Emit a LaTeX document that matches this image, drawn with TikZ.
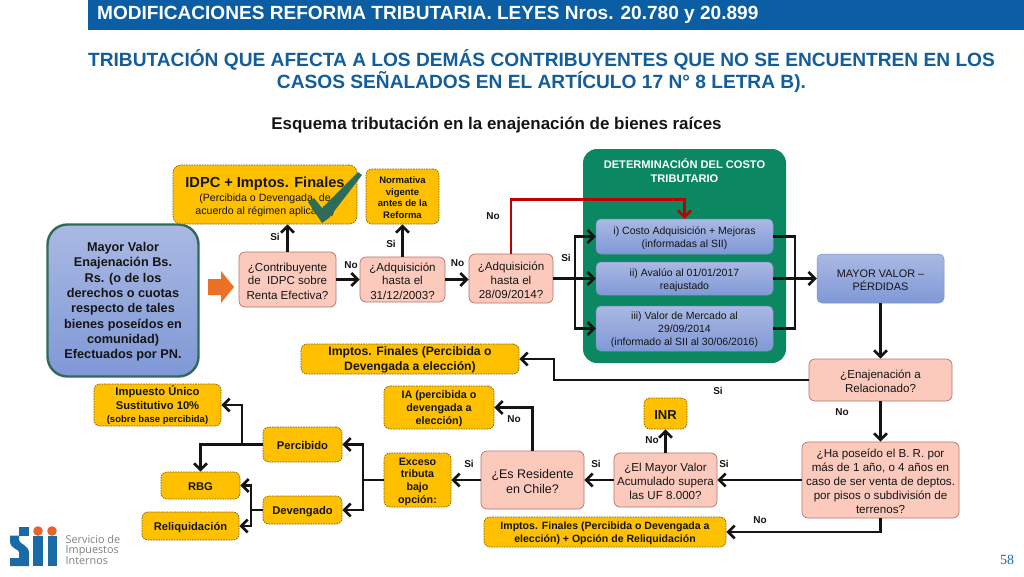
\documentclass[tikz,border=0pt]{standalone}
\usepackage{fontspec}
\setmainfont{Liberation Sans}
\newfontfamily\serifnum{Liberation Serif}
\newfontfamily\logofont{Open Sans}
\usetikzlibrary{arrows.meta,calc}
\definecolor{hdrblue}{HTML}{0B5EA3}
\definecolor{ttlblue}{HTML}{135D9C}
\definecolor{yel}{HTML}{FFC000}
\definecolor{yelline}{HTML}{7A6010}
\definecolor{pinkf}{HTML}{FCCABD}
\definecolor{pinkl}{HTML}{B9706C}
\definecolor{bluet}{HTML}{AAB9E3}
\definecolor{blueb}{HTML}{7F98D6}
\definecolor{bluel}{HTML}{7E93C8}
\definecolor{grn}{HTML}{0B8761}
\definecolor{dgrn}{HTML}{2E6B58}
\definecolor{redl}{HTML}{C00000}
\definecolor{sblue}{HTML}{1B6AA8}
\definecolor{sorange}{HTML}{E8622A}
\definecolor{sgray}{HTML}{7F7F7F}
\definecolor{ink}{HTML}{151515}
\newcommand\fs[2]{\fontsize{#1}{#2}\selectfont}
\newcommand\topstrut{\rule{0pt}{\dimexpr.75em+2.4pt\relax}}
\tikzset{
  base/.style={inner sep=0pt,align=center,text=ink},
  yelbox/.style={base,draw=yelline,fill=yel,dash pattern=on 1.6pt off 1pt,line width=0.7pt,rounded corners=6pt,font=\bfseries\fs{11.2}{13}},
  pinkbox/.style={base,draw=pinkl,fill=pinkf,line width=0.7pt,rounded corners=6pt,font=\fs{11.6}{14}},
  bluebox/.style={base,draw=bluel,top color=bluet,bottom color=blueb,line width=0.5pt,rounded corners=5pt,font=\fs{10.5}{13}},
  flow/.style={line width=2.6pt,draw=black!92,-{Straight Barb[length=6.5pt,width=13pt,line width=2.6pt]}},
  plain/.style={line width=2.6pt,draw=black!92},
  lab/.style={inner sep=0pt,text=ink,font=\bfseries\fs{10}{11}},
}
\begin{document}
\begin{tikzpicture}[x=1pt,y=-1pt]
\useasboundingbox (0,0) rectangle (1024,576);
\fill[white] (0,0) rectangle (1024,576);
% header
\fill[hdrblue] (88,0) rectangle (1024,30);
\node[inner sep=0pt,anchor=west,text=white,font=\bfseries\fs{19.06}{22}] (hdr) at (97,15) {MODIFICACIONES REFORMA TRIBUTARIA. LEYES Nros. 20.780 y 20.899};
\node[inner sep=0pt,align=center,text=ttlblue,font=\bfseries\fs{19.15}{22.5}] (ttl) at (541.5,71) {TRIBUTACIÓN QUE AFECTA A LOS DEMÁS CONTRIBUYENTES QUE NO SE ENCUENTREN EN LOS\\CASOS SEÑALADOS EN EL ARTÍCULO 17 N° 8 LETRA B).};
\node[inner sep=0pt,text=ink,font=\bfseries\fs{16.95}{18}] (sub) at (496.5,125) {Esquema tributación en la enajenación de bienes raíces};
% green panel
\node[inner sep=0pt,fill=grn,rounded corners=14pt,minimum width=203pt,minimum height=214pt] (panel) at (684.5,256) {};
\node[inner sep=0pt,align=center,text=white,font=\bfseries\fs{11.1}{13.5}] (paneltxt) at (684.5,170.5) {DETERMINACIÓN DEL COSTO\\TRIBUTARIO};
% blue boxes
\node[bluebox,minimum width=177pt,minimum height=35pt] (c1) at (684.5,236.5) {\topstrut i) Costo Adquisición + Mejoras\\(informadas al SII)};
\node[bluebox,minimum width=177pt,minimum height=33pt] (c2) at (684.5,278.5) {\topstrut ii) Avalúo al 01/01/2017\\reajustado};
\node[bluebox,minimum width=177pt,minimum height=45pt] (c3) at (684.5,328.5) {\topstrut iii) Valor de Mercado al\\29/09/2014\\(informado al SII al 30/06/2016)};
\node[bluebox,minimum width=127pt,minimum height=49pt,font=\fs{10.9}{13}] (mayor) at (880.5,278.5) {\topstrut MAYOR VALOR --\\PÉRDIDAS};
\node[base,draw=dgrn,line width=2.4pt,top color=bluet,bottom color=blueb,rounded corners=20pt,minimum width=151pt,minimum height=152pt,font=\bfseries\fs{12.7}{15.3}] (mv) at (123,300.5) {\topstrut Mayor Valor\\Enajenación Bs.\\Rs. (o de los\\derechos o cuotas\\respecto de tales\\bienes poseídos en\\comunidad)\\Efectuados por PN.};
% orange block arrow
\fill[sorange!90!yellow] (208,279) -- (221,279) -- (221,271) -- (234,287) -- (221,303) -- (221,295) -- (208,295) -- cycle;
% pink boxes
\node[pinkbox,minimum width=97pt,minimum height=55pt] (contrib) at (287.5,279.5) {\topstrut ¿Contribuyente\\de\ \ IDPC sobre\\Renta Efectiva?};
\node[pinkbox,minimum width=85pt,minimum height=45pt] (adq1) at (402.5,279.5) {\topstrut ¿Adquisición\\hasta el\\31/12/2003?};
\node[pinkbox,minimum width=84pt,minimum height=49pt] (adq2) at (511,278.5) {\topstrut ¿Adquisición\\hasta el\\28/09/2014?};
\node[pinkbox,minimum width=143pt,minimum height=42pt] (enaj) at (880.5,380) {\topstrut ¿Enajenación a\\Relacionado?};
\node[pinkbox,minimum width=157pt,minimum height=76pt] (ha) at (880.5,480) {\topstrut ¿Ha poseído el B. R. por\\más de 1 año, o 4 años en\\caso de ser venta de deptos.\\por pisos o subdivisión de\\terrenos?};
\node[pinkbox,minimum width=103pt,minimum height=54pt] (mv8) at (665.5,480) {\topstrut ¿El Mayor Valor\\Acumulado supera\\las UF 8.000?};
\node[pinkbox,minimum width=103pt,minimum height=58pt,font=\fs{12.5}{15.5}] (res) at (532.5,480) {\topstrut ¿Es Residente\\en Chile?};
% yellow boxes
\node[yelbox,minimum width=184pt,minimum height=59pt,rounded corners=8pt] (idpc) at (265,194.5) {\rule{0pt}{15pt}{\fs{14.6}{17}IDPC + Imptos. Finales}\\[1.5pt]{\mdseries\fs{10.6}{13}(Percibida o Devengada, de}\\{\mdseries\fs{10.6}{13}acuerdo al régimen aplicable)}};
\node[yelbox,minimum width=73pt,minimum height=55pt,font=\bfseries\fs{9.5}{11.5}] (norm) at (402.5,196.5) {\topstrut Normativa\\vigente\\antes de la\\Reforma};
\node[yelbox,minimum width=218pt,minimum height=30pt,font=\bfseries\fs{12.2}{15}] (impt) at (410,359) {\topstrut Imptos. Finales (Percibida o\\Devengada a elección)};
\node[yelbox,minimum width=127pt,minimum height=42pt,font=\bfseries\fs{11.2}{13.5}] (unico) at (157.5,405) {\topstrut Impuesto Único\\Sustitutivo 10\%\\{\fs{9.5}{12.5}(sobre base percibida)}};
\node[yelbox,minimum width=79pt,minimum height=35pt] (perc) at (302.5,444.5) {\topstrut Percibido};
\node[yelbox,minimum width=79pt,minimum height=27pt] (rbg) at (200.5,485.5) {\topstrut RBG};
\node[yelbox,minimum width=97pt,minimum height=28pt] (reliq) at (190.5,526) {\topstrut Reliquidación};
\node[yelbox,minimum width=79pt,minimum height=28pt] (dev) at (302.5,510) {\topstrut Devengado};
\node[yelbox,minimum width=110pt,minimum height=43pt,font=\bfseries\fs{10.8}{12.7}] (ia) at (439,407.5) {\topstrut IA (percibida o\\devengada a\\elección)};
\node[yelbox,minimum width=67pt,minimum height=54pt,font=\bfseries\fs{10.7}{12.7}] (exc) at (417.5,480) {\topstrut Exceso\\tributa\\bajo\\opción:};
\node[yelbox,minimum width=43pt,minimum height=31pt,font=\bfseries\fs{13}{15}] (inr) at (665.5,413.5) {\topstrut INR};
\node[yelbox,minimum width=242pt,minimum height=30pt,font=\bfseries\fs{10.55}{12.7}] (impb) at (605,532) {\topstrut Imptos. Finales (Percibida o Devengada a\\elección) + Opción de Reliquidación};
% helper coordinates
\coordinate (redtop) at (600,199.5);
\coordinate (lb) at (575,278.5);
\coordinate (rb) at (795,278.5);
\coordinate (ek) at (554,359);
\coordinate (pb) at (363,480);
\coordinate (pa) at (242,444.5);
\coordinate (pr) at (200.5,444.5);
\coordinate (db) at (251,510);
% connectors
\draw[flow] (contrib.north) -- (contrib.north |- idpc.south);
\draw[flow] (contrib.east |- adq1.west) -- (adq1.west);
\draw[flow] (adq1.north) -- (norm.south);
\draw[flow] (adq1.east) -- (adq1.east -| adq2.west);
\draw[flow,draw=redl,-{Straight Barb[length=6.5pt,width=13pt,line width=2.6pt,color=redl]}] (adq2.north) |- (redtop) -| (c1.north);
\draw[flow] (adq2.east) -- (c2.west);
\draw[flow] (lb) |- (c1.west);
\draw[flow] (lb) |- (c3.west);
\draw[plain] (c1.east) -| (rb) |- (c3.east);
\draw[flow] (c2.east) -- (mayor.west);
\draw[flow] (mayor.south) -- (enaj.north);
\draw[flow] (enaj.south) -- (ha.north);
\draw[flow] (enaj.west) -| (ek) -- (impt.east);
\draw[flow] (ha.west) -- (mv8.east);
\draw[flow] (ha.south) |- (impb.east);
\draw[flow] (mv8.north) -- (inr.south);
\draw[flow] (mv8.west) -- (res.east);
\draw[flow] (res.west) -- (exc.east);
\draw[flow] (res.north) |- (ia.east);
\draw[plain] (exc.west) -- (pb);
\draw[flow] (pb) |- (perc.east);
\draw[flow] (pb) |- (dev.east);
\draw[flow] (perc.west) -- (pa) |- (unico.east);
\draw[flow] (pa) -- (pr) -- (rbg.north);
\draw[flow] (dev.west) -- (db) |- (rbg.east);
\draw[flow] (db) |- (reliq.east);
% labels
\node[lab] (l1) at (275,237) {Si};
\node[lab] (l2) at (351,265) {No};
\node[lab] (l3) at (391,244) {Si};
\node[lab] (l4) at (457.5,263) {No};
\node[lab] (l5) at (493,216) {No};
\node[lab] (l6) at (566,258) {Si};
\node[lab] (l7) at (718,391) {Si};
\node[lab] (l8) at (842,412) {No};
\node[lab] (l9) at (724,464) {Si};
\node[lab] (l10) at (596,464) {Si};
\node[lab] (l11) at (469,464) {Si};
\node[lab] (l12) at (514,419) {No};
\node[lab] (l13) at (652,440) {No};
\node[lab] (l14) at (760,520) {No};
% check mark
\fill[dgrn] (322,223) -- (308,202) -- (314,198) -- (322,208) -- (358,172) -- (362,175) -- (329,218) -- cycle;
% logo
\fill[sblue] (19,527) rectangle (29,535.5);
\fill[sblue] (10,535.5) -- (19,535.5) -- (19,540) .. controls (19,544) and (29,545) .. (29,553) -- (29,566) -- (10,566) -- (10,558) -- (19,558) -- (19,552) .. controls (19,549) and (10,549) .. (10,541) -- cycle;
\fill[sblue] (32.5,536) rectangle (43,566);
\fill[sblue] (47.5,536) rectangle (57,566);
\fill[sorange] (38,531) circle (4.8);
\fill[sorange] (52,531) circle (4.8);
\node[inner sep=0pt,anchor=west,align=left,text=sgray,font=\logofont\fs{10.8}{10}] (logo) at (65.5,550) {Servicio de\\Impuestos\\Internos};
\node[inner sep=0pt,text=sblue,font=\serifnum\fs{14}{16}] (pg) at (1007,560) {58};
\end{tikzpicture}
\end{document}
